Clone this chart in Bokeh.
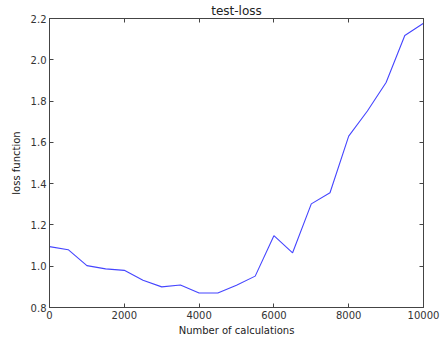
from bokeh.plotting import figure
from bokeh.models import Range1d, LinearAxis, FixedTicker, Title, PrintfTickFormatter, CustomJSTickFormatter
from bokeh.embed import file_html
from bokeh.resources import INLINE

steps = [0, 500, 1000, 1500, 2000, 2500, 3000, 3500, 4000, 4500, 5000,
         5500, 6000, 6500, 7000, 7500, 8000, 8500, 9000, 9500, 10000]
loss = [1.095, 1.080, 1.003, 0.987, 0.980, 0.932, 0.900, 0.909, 0.870, 0.870, 0.908,
        0.952, 1.148, 1.065, 1.302, 1.356, 1.630, 1.752, 1.890, 2.118, 2.177]
x_ticks = [0, 2000, 4000, 6000, 8000, 10000]
y_ticks = [0.8, 1.0, 1.2, 1.4, 1.6, 1.8, 2.0, 2.2]

FONT = "DejaVu Sans"
AX = "#444444"

p = figure(width=447, height=342, output_backend="svg", toolbar_location=None,
           x_range=Range1d(0, 10000), y_range=Range1d(0.8, 2.2),
           min_border_left=49, min_border_right=24, min_border_top=0, min_border_bottom=35)
p.title = None

p.line(steps, loss, line_color="#4545ff", line_width=1.1)

p.grid.visible = False
p.outline_line_color = AX
p.outline_line_width = 1
p.background_fill_color = "white"
p.border_fill_color = "white"

for ax, ticks in ((p.xaxis[0], x_ticks), (p.yaxis[0], y_ticks)):
    ax.ticker = FixedTicker(ticks=ticks)
    ax.major_tick_in = 4
    ax.major_tick_out = 0
    ax.minor_tick_in = 0
    ax.minor_tick_out = 0
    ax.axis_line_color = AX
    ax.major_tick_line_color = AX
    ax.major_label_text_font = FONT
    ax.major_label_text_font_size = "10px"
    ax.major_label_text_color = "#333333"
    ax.axis_label_text_font = FONT
    ax.axis_label_text_font_size = "10px"
    ax.axis_label_text_font_style = "normal"
    ax.axis_label_text_color = "#222222"

p.yaxis[0].formatter = PrintfTickFormatter(format="%.1f")
p.xaxis[0].axis_label = "Number of calculations"
p.yaxis[0].axis_label = "loss function"
p.xaxis[0].major_label_standoff = 3
p.yaxis[0].major_label_standoff = 3
p.xaxis[0].axis_label_standoff = 3
p.yaxis[0].axis_label_standoff = 6

blank = CustomJSTickFormatter(code="return '';")
top = LinearAxis(ticker=FixedTicker(ticks=x_ticks), formatter=blank,
                 major_label_standoff=0, major_label_text_font_size="10px",
                 major_tick_in=4, major_tick_out=0, minor_tick_in=0, minor_tick_out=0,
                 axis_line_color=AX, major_tick_line_color=AX)
right = LinearAxis(ticker=FixedTicker(ticks=y_ticks), formatter=blank,
                   major_label_standoff=0, major_label_text_font_size="10px",
                   major_tick_in=4, major_tick_out=0, minor_tick_in=0, minor_tick_out=0,
                   axis_line_color=AX, major_tick_line_color=AX)
p.add_layout(top, "above")
p.add_layout(right, "right")
p.add_layout(Title(text="test-loss", align="center", text_font=FONT, text_font_size="12px",
                   text_font_style="normal", text_color="#222222", offset=0, standoff=2), "above")

open("out.html", "w").write(file_html(p, INLINE))
